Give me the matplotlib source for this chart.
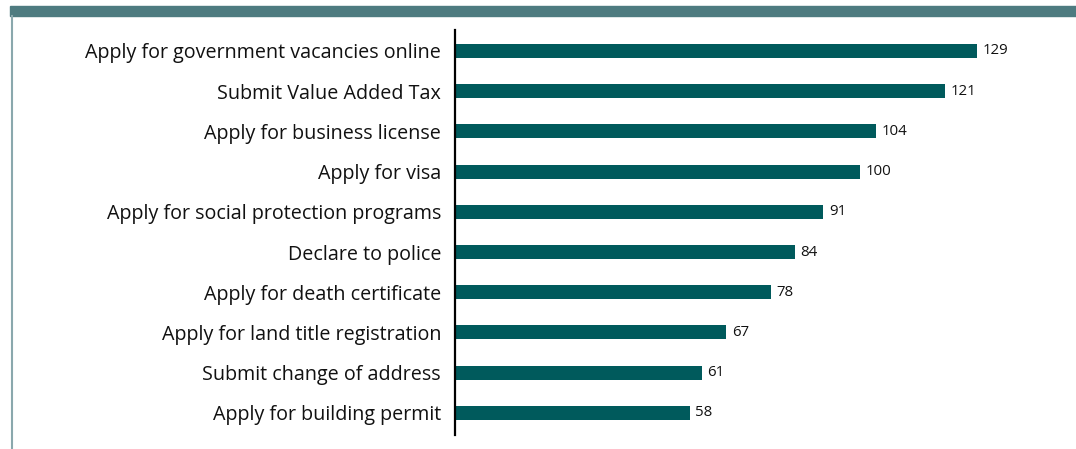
import matplotlib
matplotlib.use('Agg')
import matplotlib.pyplot as plt
from matplotlib.patches import Rectangle
from matplotlib.lines import Line2D

# Services ranked by number of online users (top to bottom)
services = ['Apply for government vacancies online', 'Submit Value Added Tax',
            'Apply for business license', 'Apply for visa',
            'Apply for social protection programs', 'Declare to police',
            'Apply for death certificate', 'Apply for land title registration',
            'Submit change of address', 'Apply for building permit']
counts = [129, 121, 104, 100, 91, 84, 78, 67, 61, 58]

bar_color = '#005a5c'
band_color = '#4e7b80'
edge_color = '#8aa8ad'

plt.rcParams['font.family'] = ['Open Sans', 'DejaVu Sans']

fig = plt.figure(figsize=(10.76, 4.49), dpi=100, facecolor='w')

# frame decorations: thick band on top, thin line on the left
fig.patches.append(Rectangle((10 / 1076, 1 - 16 / 449), 1 - 10 / 1076, 10 / 449,
                             transform=fig.transFigure, color=band_color, zorder=0))
fig.lines.append(Line2D([11.5 / 1076, 11.5 / 1076], [0, 1 - 16 / 449],
                        transform=fig.transFigure, color=edge_color, lw=1.5))

ax = fig.add_axes([455 / 1076, 14 / 449, 615 / 1076, 405 / 449])
ypos = list(range(len(services)))
ax.barh(ypos, counts, height=0.35, color=bar_color)
ax.set_ylim(len(services) - 0.45, -0.52)
ax.set_xlim(0, 152)

ax.set_yticks(ypos)
ax.set_yticklabels(services, fontsize=14.2, color='#111111')
ax.tick_params(axis='y', length=0, pad=10)
ax.set_xticks([])

for s in ['top', 'right', 'bottom']:
    ax.spines[s].set_visible(False)
ax.spines['left'].set_color('black')
ax.spines['left'].set_linewidth(1.6)

for y, v in zip(ypos, counts):
    ax.text(v + 1.4, y, str(v), va='center', ha='left', fontsize=10.8, color='#111111')

fig.savefig('out.png', dpi=100)
